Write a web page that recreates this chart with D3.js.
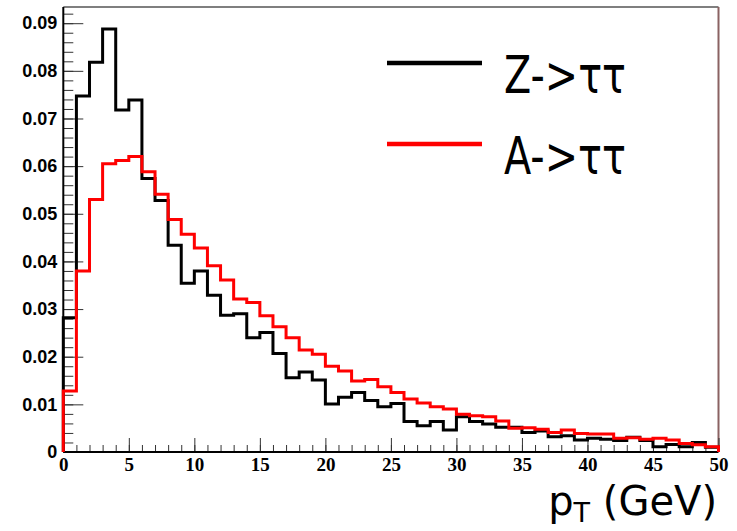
<!DOCTYPE html>
<html>
<head>
<meta charset="utf-8">
<script src="https://cdn.jsdelivr.net/npm/d3@7"></script>
<style>
  body { margin: 0; background: #fff; }
  svg { display: block; }
</style>
</head>
<body>
<svg id="chart"></svg>
<script>
// bin edges 0..50 in 1 GeV steps, one value per bin
const binEdges = d3.range(0, 51, 1);

const zTauTau = [
  0.0282, 0.0747, 0.0818, 0.0888, 0.0718, 0.0739, 0.0574, 0.0528, 0.0434, 0.0354,
  0.0380, 0.0329, 0.0287, 0.0290, 0.0240, 0.0251, 0.0207, 0.0156, 0.0168, 0.0151,
  0.0101, 0.0115, 0.0125, 0.0108, 0.0095, 0.0102, 0.0064, 0.0055, 0.0064, 0.0046,
  0.0074, 0.0064, 0.0059, 0.0052, 0.0052, 0.0041, 0.0044, 0.0032, 0.0034, 0.0025,
  0.0029, 0.0027, 0.0024, 0.0031, 0.0024, 0.0011, 0.0016, 0.0011, 0.0020, 0.0010
];

const aTauTau = [
  0.0128, 0.0380, 0.0530, 0.0605, 0.0612, 0.0620, 0.0588, 0.0541, 0.0488, 0.0457,
  0.0428, 0.0391, 0.0361, 0.0321, 0.0314, 0.0286, 0.0263, 0.0240, 0.0214, 0.0205,
  0.0180, 0.0170, 0.0149, 0.0152, 0.0137, 0.0125, 0.0111, 0.0103, 0.0095, 0.0090,
  0.0079, 0.0076, 0.0074, 0.0065, 0.0050, 0.0051, 0.0048, 0.0041, 0.0046, 0.0039,
  0.0038, 0.0038, 0.0029, 0.0030, 0.0027, 0.0029, 0.0025, 0.0018, 0.0015, 0.0011
];

const yTicks = [0, 0.01, 0.02, 0.03, 0.04, 0.05, 0.06, 0.07, 0.08, 0.09];
const xTicks = [0, 5, 10, 15, 20, 25, 30, 35, 40, 45, 50];

const series = [
  {name: "Z->\u03c4\u03c4", values: zTauTau, color: "#000000"},
  {name: "A->\u03c4\u03c4", values: aTauTau, color: "#ff0000"}
];

const width = 737, height = 531;
const margin = {top: 7, right: 18.5, bottom: 79, left: 63.3};

const svg = d3.select("#chart")
  .attr("width", width)
  .attr("height", height);

const x = d3.scaleLinear()
  .domain([0, 50])
  .range([margin.left, width - margin.right]);

const y = d3.scaleLinear()
  .domain([0, 0.0934])
  .range([height - margin.bottom, margin.top]);

// frame (top and right)
svg.append("line")
  .attr("x1", x(0)).attr("x2", x(50))
  .attr("y1", y(0.0934)).attr("y2", y(0.0934))
  .attr("stroke", "#555").attr("stroke-width", 1.5);
svg.append("line")
  .attr("x1", x(50)).attr("x2", x(50))
  .attr("y1", y(0.0934)).attr("y2", y(0))
  .attr("stroke", "#8a6262").attr("stroke-width", 2);

// y axis: minor ticks, then major ticks with labels
svg.append("g")
  .attr("transform", `translate(${x(0)},0)`)
  .call(d3.axisLeft(y).tickValues(d3.range(0, 0.0934, 0.002)).tickSizeInner(-10).tickSizeOuter(0).tickFormat(""))
  .call(g => g.select(".domain").remove())
  .call(g => g.selectAll("line").attr("stroke", "#333"));

svg.append("g")
  .attr("transform", `translate(${x(0)},0)`)
  .call(d3.axisLeft(y).tickValues(yTicks).tickSizeInner(-20).tickSizeOuter(0).tickPadding(6)
    .tickFormat(d => d === 0 ? "0" : d3.format(".2f")(d)))
  .call(g => g.select(".domain").remove())
  .call(g => g.selectAll("line").attr("stroke", "#333"))
  .call(g => g.selectAll("text")
    .style("font-family", "'Liberation Sans', Arial, sans-serif")
    .style("font-weight", "bold")
    .style("font-size", "18px")
    .attr("fill", "#000"));

// x axis
svg.append("g")
  .attr("transform", `translate(0,${y(0)})`)
  .call(d3.axisBottom(x).tickValues(d3.range(0, 51, 1)).tickSizeInner(-7).tickSizeOuter(0).tickFormat(""))
  .call(g => g.select(".domain").remove())
  .call(g => g.selectAll("line").attr("stroke", "#333"));

svg.append("g")
  .attr("transform", `translate(0,${y(0)})`)
  .call(d3.axisBottom(x).tickValues(xTicks).tickSizeInner(-14).tickSizeOuter(0).tickPadding(6))
  .call(g => g.select(".domain").remove())
  .call(g => g.selectAll("line").attr("stroke", "#333"))
  .call(g => g.selectAll("text")
    .style("font-family", "'Liberation Serif', 'Times New Roman', serif")
    .style("font-weight", "bold")
    .style("font-size", "19px")
    .attr("fill", "#000"));

// axis lines
svg.append("line")
  .attr("x1", x(0)).attr("x2", x(50))
  .attr("y1", y(0)).attr("y2", y(0))
  .attr("stroke", "#000").attr("stroke-width", 2);
svg.append("line")
  .attr("x1", x(0)).attr("x2", x(0))
  .attr("y1", y(0)).attr("y2", y(0.0934))
  .attr("stroke", "#000").attr("stroke-width", 2);

// histogram outlines as step paths
function stepPoints(values) {
  const pts = [[binEdges[0], 0]];
  values.forEach((v, i) => {
    pts.push([binEdges[i], v]);
    pts.push([binEdges[i + 1], v]);
  });
  pts.push([binEdges[binEdges.length - 1], 0]);
  return pts;
}

const line = d3.line()
  .x(d => x(d[0]))
  .y(d => y(d[1]));

svg.selectAll(".hist")
  .data(series)
  .join("path")
  .attr("class", "hist")
  .attr("d", d => line(stepPoints(d.values)))
  .attr("fill", "none")
  .attr("stroke", d => d.color)
  .attr("stroke-width", 3)
  .attr("stroke-linejoin", "miter");

// legend
const legend = svg.append("g");
const legendRows = [63, 144];
series.forEach((s, i) => {
  legend.append("line")
    .attr("x1", 387).attr("x2", 482)
    .attr("y1", legendRows[i]).attr("y2", legendRows[i])
    .attr("stroke", s.color)
    .attr("stroke-width", 4.5);
  legend.append("text")
    .attr("x", 504)
    .attr("y", legendRows[i] + 30)
    .attr("textLength", 122)
    .attr("lengthAdjust", "spacingAndGlyphs")
    .style("font-family", "'DejaVu Sans', sans-serif")
    .style("font-size", "52px")
    .attr("fill", "#000")
    .text(s.name);
});

// x axis title
const title = svg.append("text")
  .attr("x", 717)
  .attr("y", 515)
  .attr("text-anchor", "end")
  .style("font-family", "'DejaVu Sans', sans-serif")
  .style("font-size", "40px")
  .attr("fill", "#000");
title.append("tspan").text("p");
title.append("tspan").attr("dy", 7).style("font-size", "27px").text("T");
title.append("tspan").attr("dy", -7).text(" (GeV)");
</script>
</body>
</html>
